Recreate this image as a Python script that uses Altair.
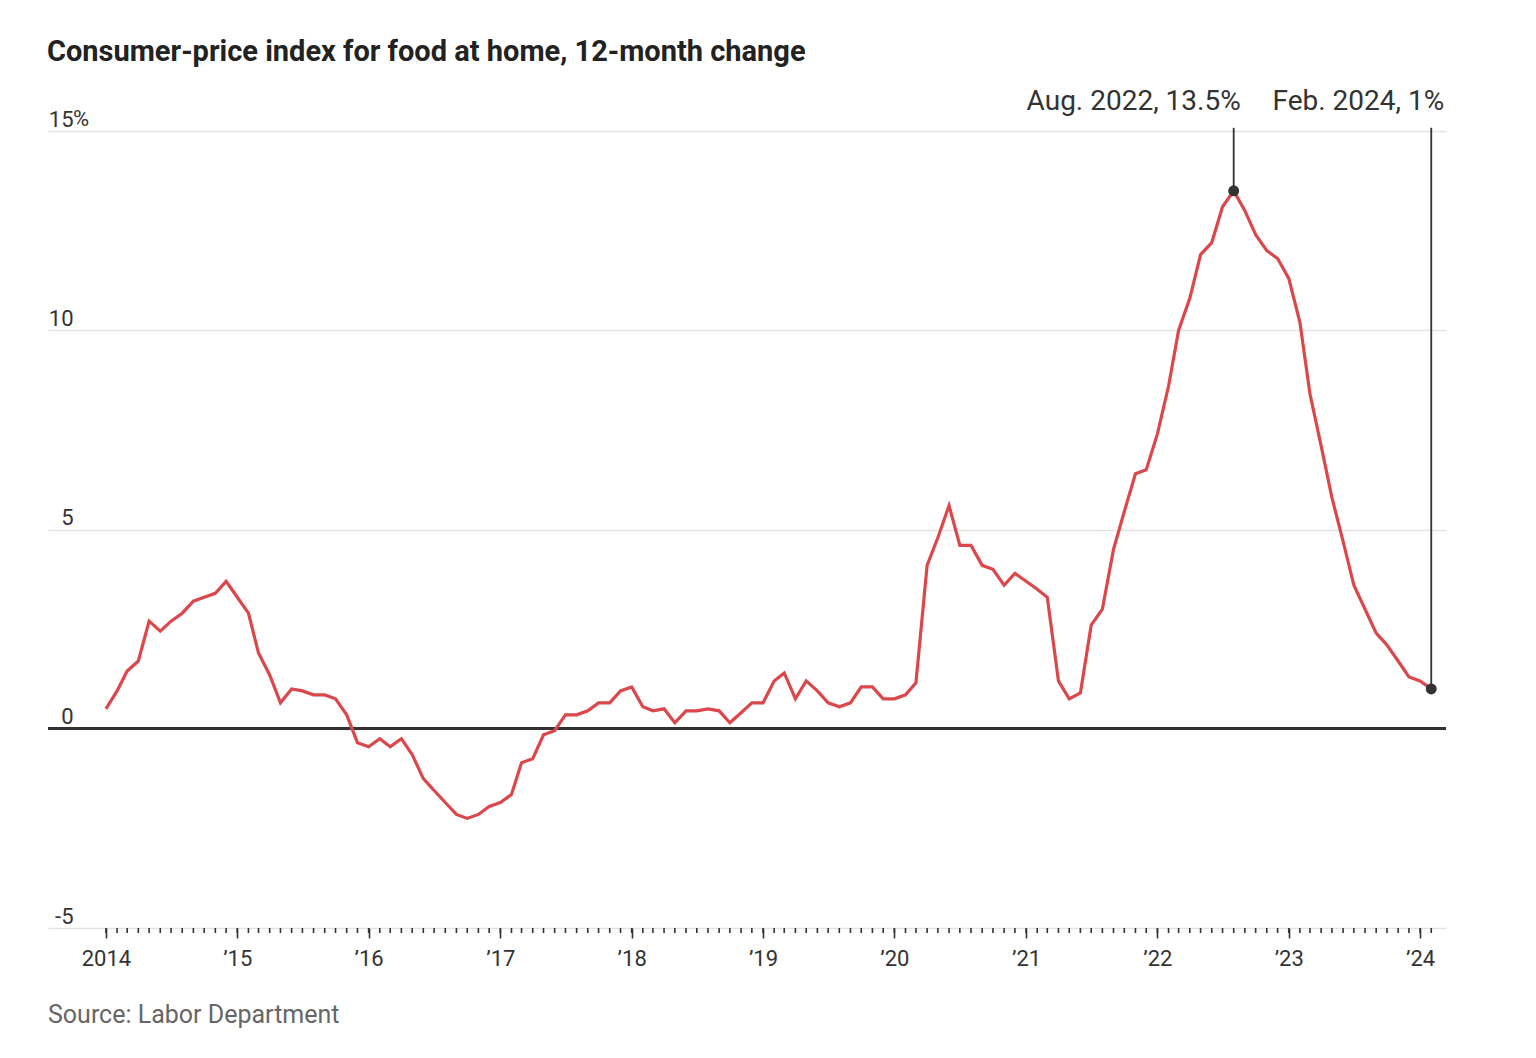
import altair as alt
import pandas as pd

# ---- data ----
values_2014 = [0.5, 0.95, 1.45, 1.7, 2.7, 2.45, 2.7, 2.9, 3.2, 3.3, 3.4, 3.7]
values_2015 = [3.3, 2.9, 1.9, 1.35, 0.65, 1.0, 0.95, 0.85, 0.85, 0.75, 0.35, -0.35]
values_2016 = [-0.45, -0.25, -0.45, -0.25, -0.65, -1.25, -1.55, -1.85, -2.15, -2.25, -2.15, -1.95]
values_2017 = [-1.85, -1.65, -0.85, -0.75, -0.15, -0.05, 0.35, 0.35, 0.45, 0.65, 0.65, 0.95]
values_2018 = [1.05, 0.55, 0.45, 0.5, 0.15, 0.45, 0.45, 0.5, 0.45, 0.15, 0.4, 0.65]
values_2019 = [0.65, 1.2, 1.4, 0.75, 1.2, 0.95, 0.65, 0.55, 0.65, 1.05, 1.05, 0.75]
values_2020 = [0.75, 0.85, 1.15, 4.1, 4.8, 5.6, 4.6, 4.6, 4.1, 4.0, 3.6, 3.9]
values_2021 = [3.7, 3.5, 3.3, 1.2, 0.75, 0.9, 2.6, 3.0, 4.5, 5.45, 6.4, 6.5]
values_2022 = [7.4, 8.6, 10.0, 10.8, 11.9, 12.2, 13.1, 13.5, 13.0, 12.4, 12.0, 11.8]
values_2023 = [11.3, 10.2, 8.4, 7.1, 5.8, 4.7, 3.6, 3.0, 2.4, 2.1, 1.7, 1.3]
values_2024 = [1.2, 1.0]

values = (values_2014 + values_2015 + values_2016 + values_2017 + values_2018 +
          values_2019 + values_2020 + values_2021 + values_2022 + values_2023 + values_2024)
months = [f"{y}-{m:02d}-01" for y in range(2014, 2025) for m in range(1, 13)][:len(values)]

year_ticks = list(range(2014, 2025))
y_ticks = [-5, 0, 5, 10, 15]

ann_dates = ["2022-08-01", "2024-02-01"]
ann_values = [13.5, 1.0]
ann_labels = ["Aug. 2022, 13.5%", "Feb. 2024, 1%"]

title_text = "Consumer-price index for food at home, 12-month change"
source_text = "Source: Labor Department"

# ---- frames ----
df = pd.DataFrame({"date": months, "value": values})
ticks_df = pd.DataFrame({"date": months})
ann_df = pd.DataFrame({"date": ann_dates, "value": ann_values, "label": ann_labels})
pct_df = pd.DataFrame({"value": [15]})
src_df = pd.DataFrame({"label": [source_text]})

W, H = 1398, 797
FONT = "Roboto"
INK = "#333333"
RED = "#dc474c"

xscale = alt.Scale(
    type="utc",
    domain=[alt.DateTime(year=2013, month=7, date=24, utc=True),
            alt.DateTime(year=2024, month=3, date=13, utc=True)],
)
xaxis = alt.Axis(
    values=[alt.DateTime(year=y, month=1, date=1, utc=True) for y in year_ticks],
    labelExpr="utcFormat(datum.value, '%Y') == '2014' ? '2014' : '\u2019' + utcFormat(datum.value, '%y')",
    title=None, domain=False, grid=False,
    ticks=True, tickSize=10, tickColor=INK, tickWidth=1.6,
    labelFont=FONT, labelFontSize=22, labelColor=INK, labelPadding=10,
)
yscale = alt.Scale(domain=[-5, 15], nice=False, zero=False)
yaxis = alt.Axis(
    values=y_ticks, title=None, domain=False, ticks=False,
    grid=True, gridColor="#e3e3e3", gridWidth=1.5,
    labelExpr="datum.value + ''",
    labelAlign="right", labelBaseline="alphabetic", labelPadding=-25, labelOffset=-5,
    labelFont=FONT, labelFontSize=22, labelColor=INK,
)

X = alt.X("date:T", scale=xscale, axis=xaxis)
Y = alt.Y("value:Q", scale=yscale, axis=yaxis)

line = alt.Chart(df).mark_line(color=RED, strokeWidth=3.2).encode(x=X, y=Y)

zero = alt.Chart(df).mark_rule(color=INK, strokeWidth=2).encode(y=alt.datum(0))

minor = alt.Chart(ticks_df).mark_rule(color=INK, strokeWidth=1.6).encode(
    x=X, y=alt.value(H), y2=alt.value(H + 5)
)

ann_rule = alt.Chart(ann_df).mark_rule(color=INK, strokeWidth=1.8).encode(
    x=X, y=Y, y2=alt.datum(15.08)
)
dots = alt.Chart(ann_df).mark_circle(color=INK, opacity=1, size=120).encode(x=X, y=Y)

ann_text1 = alt.Chart(ann_df.iloc[[0]]).mark_text(
    align="right", baseline="alphabetic", dx=7, font=FONT, fontSize=28, color=INK
).encode(x=X, y=alt.value(-21), text="label:N")
ann_text2 = alt.Chart(ann_df.iloc[[1]]).mark_text(
    align="right", baseline="alphabetic", dx=13, font=FONT, fontSize=28, color=INK
).encode(x=X, y=alt.value(-21), text="label:N")

pct = alt.Chart(pct_df).mark_text(
    align="left", baseline="alphabetic", dy=-5, font=FONT, fontSize=22, color=INK
).encode(x=alt.value(25), y=Y, text=alt.value("%"))

source = alt.Chart(src_df).mark_text(
    align="left", baseline="middle", font=FONT, fontSize=25, color="#666666"
).encode(x=alt.value(0), y=alt.value(H + 87), text="label:N")

chart = alt.layer(
    zero, line, minor, ann_rule, dots, ann_text1, ann_text2, pct, source
).properties(
    width=W, height=H,
    title=alt.TitleParams(
        text=title_text, anchor="start", font=FONT, fontSize=29, fontWeight="bold",
        color="#222222", offset=21,
    ),
    padding={"left": 39, "top": 30, "right": 5, "bottom": 5},
).configure_view(stroke=None)

chart.save("out.html", embed_options={"renderer": "svg", "actions": False})
